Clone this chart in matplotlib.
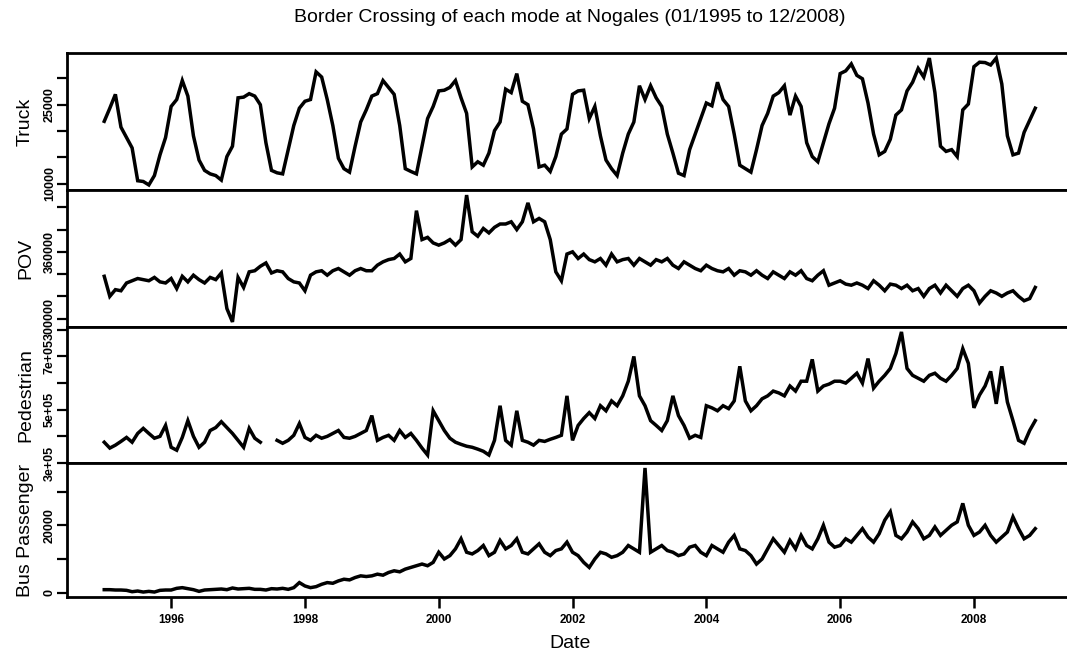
import numpy as np
import matplotlib
matplotlib.use("Agg")
import matplotlib.pyplot as plt

# Monthly border crossings at Nogales, Jan 1995 - Dec 2008
dates = 1995 + np.arange(168) / 12.0

truck = [
    21830, 24310, 26930, 20720, 18760, 16800, 10590, 10450, 9800, 11570, 15490, 18760,
    24640, 25950, 29540, 26600, 19080, 14510, 12550, 11890, 11570, 10720, 15160, 17120,
    26270, 26400, 27060, 26600, 24970, 17780, 12550, 12090, 11890, 16470, 21040, 24310,
    25620, 25950, 31180, 30200, 25950, 21040, 14840, 12870, 12220, 17120, 21700, 23990,
    26600, 27060, 29540, 28240, 26930, 21040, 12870, 12350, 11890, 17120, 22350, 24640,
    27580, 27710, 28240, 29540, 26270, 23330, 13200, 14180, 13530, 15820, 20060, 21700,
    27910, 27260, 30850, 25620, 24970, 20390, 13200, 13530, 12350, 15160, 19410, 20390,
    26930, 27580, 27710, 22350, 24640, 19080, 14510, 12870, 11570, 15820, 19410, 21700,
    28560, 25950, 28560, 26270, 24640, 19410, 15820, 12020, 11570, 16470, 19410, 22350,
    25290, 24770, 29220, 25950, 24640, 19410, 13530, 12870, 12220, 16470, 21040, 23330,
    26600, 27260, 28560, 23010, 26600, 24640, 17780, 15160, 14180, 17780, 21370, 24310,
    30850, 31370, 32680, 30520, 29870, 25290, 19410, 15490, 16140, 18430, 23010, 23990,
    27580, 29220, 31830, 30200, 33790, 27260, 17120, 16140, 16470, 15160, 23990, 25100,
    32160, 33010, 32940, 32480, 33790, 28890, 19080, 15490, 15820, 19740, 22030, 24310,
]

# privately owned vehicles, thousands
pov_k = [
    338, 320, 326, 325, 332, 334, 336, 335, 334, 337, 333, 332,
    336, 327, 338, 333, 339, 335, 332, 337, 335, 341, 309, 297,
    337, 328, 342, 343, 347, 350, 341, 343, 342, 336, 333, 332,
    325, 339, 342, 343, 339, 343, 345, 342, 339, 343, 345, 343,
    343, 348, 351, 353, 354, 358, 351, 354, 397, 371, 373, 368,
    366, 368, 371, 366, 371, 411, 378, 374, 381, 377, 382, 385,
    385, 387, 380, 387, 404, 387, 390, 387, 371, 342, 334, 358,
    360, 354, 358, 353, 351, 354, 348, 358, 351, 353, 354, 348,
    354, 351, 348, 353, 351, 354, 348, 345, 351, 348, 345, 343,
    348, 345, 343, 342, 345, 339, 343, 342, 339, 343, 339, 336,
    342, 339, 336, 342, 339, 343, 336, 334, 339, 343, 330, 332,
    334, 331, 330, 332, 330, 327, 334, 330, 325, 331, 330, 327,
    330, 325, 327, 320, 327, 330, 323, 330, 325, 320, 327, 330,
    325, 314, 320, 325, 323, 320, 323, 325, 320, 316, 318, 328,
]

# pedestrians, thousands (NaN = not reported)
ped_k = [
    378, 356, 367, 381, 396, 378, 411, 430, 411, 393, 400, 441,
    359, 348, 396, 459, 400, 359, 378, 422, 433, 455, 433, 411,
    385, 359, 430, 393, 378, np.nan, np.nan, 385, 374, 385, 404, 448,
    396, 385, 404, 393, 400, 411, 422, 396, 393, 400, 411, 422,
    478, 385, 396, 404, 385, 422, 396, 411, 385, 356, 330, 496,
    459, 422, 393, 378, 370, 363, 359, 352, 344, 330, 385, 515,
    385, 367, 496, 385, 378, 367, 385, 381, 389, 396, 404, 552,
    385, 441, 467, 489, 467, 515, 496, 533, 515, 552, 607, 700,
    552, 515, 459, 441, 422, 459, 552, 478, 441, 393, 404, 396,
    515, 507, 496, 515, 504, 533, 663, 533, 496, 515, 541, 552,
    570, 563, 552, 589, 570, 607, 607, 689, 570, 589, 596, 607,
    607, 600, 618, 637, 600, 692, 581, 607, 629, 655, 711, 792,
    655, 629, 618, 607, 629, 637, 618, 607, 629, 655, 729, 674,
    507, 555, 589, 644, 522, 663, 529, 459, 385, 374, 422, 459,
]

# bus passengers, thousands
bus_k = [
    0.9, 0.9, 0.8, 0.8, 0.7, 0.3, 0.5, 0.2, 0.4, 0.2, 0.7, 0.8,
    0.8, 1.3, 1.5, 1.2, 0.9, 0.4, 0.8, 0.9, 1.0, 1.1, 0.9, 1.4,
    1.1, 1.2, 1.3, 1.0, 1.0, 0.8, 1.2, 1.1, 1.3, 1.0, 1.5, 3.0,
    2.0, 1.5, 1.8, 2.5, 3.0, 2.8, 3.5, 4.0, 3.8, 4.5, 5.0, 4.8,
    5.0, 5.5, 5.2, 6.0, 6.5, 6.2, 7.0, 7.5, 8.0, 8.5, 8.0, 9.0,
    12.0, 10.0, 11.0, 13.0, 16.0, 12.0, 11.5, 12.5, 14.0, 11.0, 12.0, 15.5,
    13.0, 14.0, 16.0, 12.0, 11.5, 13.0, 14.5, 12.0, 11.0, 12.5, 13.0, 15.0,
    12.0, 11.0, 9.0, 7.5, 10.0, 12.0, 11.5, 10.5, 11.0, 12.0, 14.0, 13.0,
    12.0, 37.0, 12.0, 13.0, 14.0, 12.5, 12.0, 11.0, 11.5, 13.5, 14.0, 12.0,
    11.0, 14.0, 13.0, 12.0, 15.0, 17.0, 13.0, 12.5, 11.0, 8.5, 10.0, 13.0,
    16.0, 14.0, 12.0, 15.5, 13.0, 17.0, 14.0, 13.0, 16.0, 20.0, 15.0, 13.5,
    14.0, 16.0, 15.0, 17.0, 19.0, 16.5, 15.0, 17.5, 21.5, 24.0, 17.0, 16.0,
    18.0, 21.0, 19.0, 16.0, 17.0, 19.5, 17.0, 18.5, 20.0, 21.0, 26.5, 20.0,
    17.0, 18.0, 20.0, 17.0, 15.0, 16.5, 18.0, 22.5, 19.0, 16.0, 17.0, 19.0,
]

panel_names = ["Truck", "POV", "Pedestrian", "Bus Passenger"]
series = [
    np.array(truck, dtype=float),
    np.array(pov_k, dtype=float) * 1000,
    np.array(ped_k, dtype=float) * 1000,
    np.array(bus_k, dtype=float) * 1000,
]
tick_vals = [
    [10000, 15000, 20000, 25000, 30000],
    [300000, 320000, 340000, 360000, 380000, 400000],
    [3e5, 4e5, 5e5, 6e5, 7e5, 8e5],
    [0, 10000, 20000, 30000],
]
tick_text = [
    ["10000", "", "", "25000", ""],
    ["300000", "", "", "360000", "", ""],
    ["3e+05", "", "5e+05", "", "7e+05", ""],
    ["0", "", "20000", ""],
]
x_ticks = [1996, 1998, 2000, 2002, 2004, 2006, 2008]

W, H = 1067, 653
plt.rcParams["font.family"] = ["Liberation Sans", "DejaVu Sans"]
fig = plt.figure(figsize=(W / 100, H / 100), dpi=100)

# panel bounds in pixels (top, bottom); the right border falls just past the edge
bounds = [(53, 190), (190, 327), (327, 463), (463, 597)]
left_px, right_px = 67, 1072.5

t0, t1 = dates[0], dates[-1]
pad = 0.04 * (t1 - t0)
axes = []
for k, ((top, bot), y, name) in enumerate(zip(bounds, series, panel_names)):
    ax = fig.add_axes([left_px / W, 1 - bot / H, (right_px - left_px) / W, (bot - top) / H])
    ax.plot(dates, y, color="black", lw=2.5, solid_joinstyle="miter")
    lo, hi = np.nanmin(y), np.nanmax(y)
    r = hi - lo
    ax.set_ylim(lo - 0.04 * r, hi + 0.04 * r)
    ax.set_xlim(t0 - pad, t1 + pad)
    ax.set_yticks(tick_vals[k])
    ax.set_yticklabels(tick_text[k], rotation=90, va="center", fontsize=9, fontweight="bold")
    ax.tick_params(axis="y", length=7, width=1.6, pad=1)
    ax.set_ylabel(name, fontsize=14)
    for s in ax.spines.values():
        s.set_linewidth(2.0)
    ax.set_xticks(x_ticks)
    if k < 3:
        ax.tick_params(axis="x", bottom=False, labelbottom=False)
    else:
        ax.set_xticklabels([str(v) for v in x_ticks], fontsize=8.5, fontweight="bold")
        ax.tick_params(axis="x", length=8, width=1.8, pad=4)
        ax.set_xlabel("Date", fontsize=14)
    axes.append(ax)

fig.text((left_px + right_px) / 2 / W, 1 - 18 / H,
         "Border Crossing of each mode at Nogales (01/1995 to 12/2008)",
         ha="center", va="center", fontsize=14)

# keep the y labels lined up in one column
for ax in axes:
    ax.yaxis.set_label_coords(-33 / (right_px - left_px), 0.5)
axes[-1].xaxis.set_label_coords(0.5, -38 / (bounds[-1][1] - bounds[-1][0]))

fig.savefig("out.png", dpi=100)
